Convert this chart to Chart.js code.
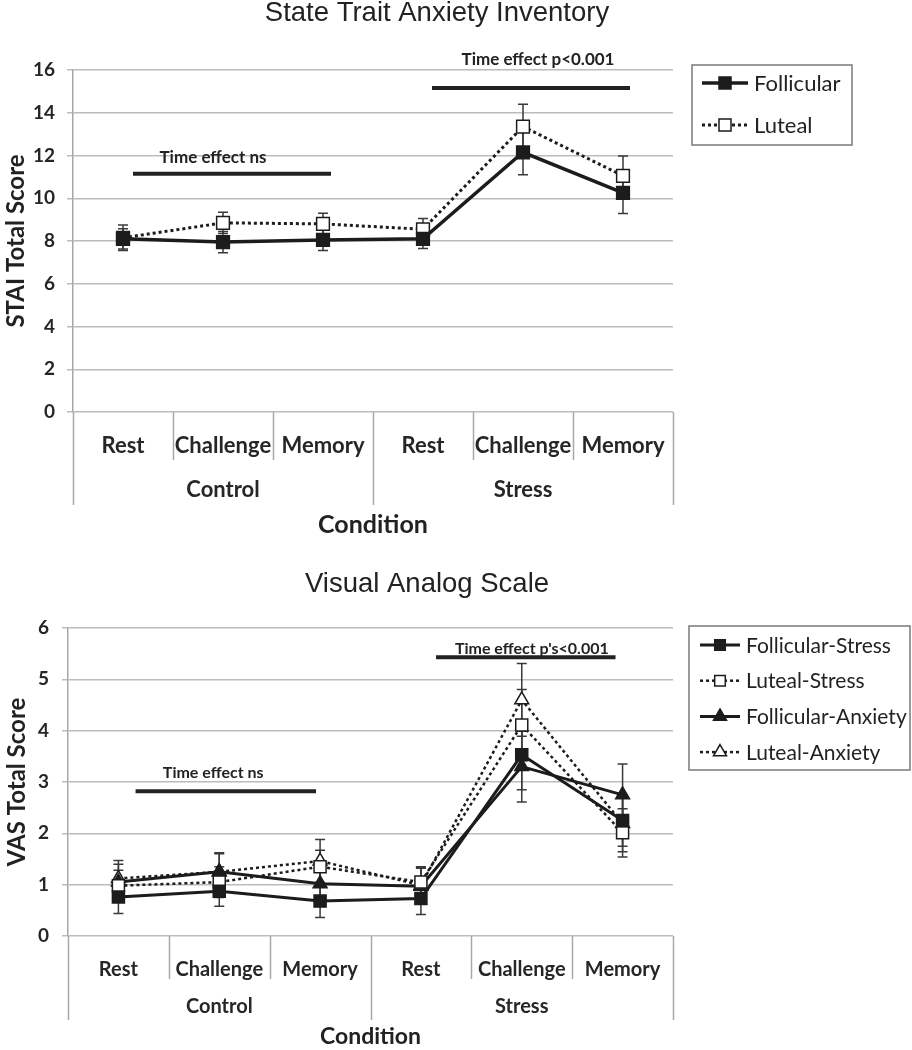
<!DOCTYPE html>
<html>
<head>
<meta charset="utf-8">
<script src="https://cdn.jsdelivr.net/npm/chart.js@4.4.0/dist/chart.umd.min.js"></script>
<style>
  html, body { margin: 0; padding: 0; background: #fff; }
  canvas { display: block; }
</style>
</head>
<body>
<canvas id="stai" width="912" height="540"></canvas>
<canvas id="vas" width="912" height="510"></canvas>
<script>
// ---- data ----
const categories = ['Rest', 'Challenge', 'Memory', 'Rest', 'Challenge', 'Memory'];
const groups = ['Control', 'Stress'];
const groupSize = 3;

// State Trait Anxiety Inventory
const staiFollicular    = [8.1, 7.95, 8.05, 8.1, 12.15, 10.25];
const staiFollicularErr = [0.47, 0.5, 0.5, 0.45, 1.05, 0.96];
const staiLuteal        = [8.15, 8.85, 8.8, 8.55, 13.35, 11.05];
const staiLutealErr     = [0.6, 0.5, 0.5, 0.5, 1.05, 0.93];

// Visual Analog Scale
const vasFollStress    = [0.76, 0.87, 0.68, 0.73, 3.53, 2.25];
const vasFollStressErr = [0.32, 0.29, 0.32, 0.31, 0.68, 0.5];
const vasLutStress     = [0.98, 1.05, 1.35, 1.05, 4.11, 2.01];
const vasLutStressErr  = [0.3, 0.3, 0.32, 0.3, 0.69, 0.47];
const vasFollAnx       = [1.05, 1.25, 1.02, 0.97, 3.3, 2.75];
const vasFollAnxErr    = [0.35, 0.35, 0.35, 0.35, 0.69, 0.6];
const vasLutAnx        = [1.12, 1.25, 1.46, 0.99, 4.6, 2.19];
const vasLutAnxErr     = [0.35, 0.37, 0.42, 0.35, 0.71, 0.55];

Chart.defaults.font.family = 'Lato';
Chart.defaults.color = '#262626';

const INK = '#1c1c1c';

function marker(ctx, style, filled, x, y, r) {
  ctx.beginPath();
  if (style === 'triangle') {
    ctx.moveTo(x, y - r);
    ctx.lineTo(x + r * 0.866, y + r * 0.5);
    ctx.lineTo(x - r * 0.866, y + r * 0.5);
    ctx.closePath();
  } else {
    const s = r * Math.SQRT1_2;
    ctx.rect(x - s, y - s, 2 * s, 2 * s);
  }
  ctx.fillStyle = filled ? INK : '#fff';
  ctx.fill();
  ctx.lineWidth = 1.5;
  ctx.strokeStyle = INK;
  ctx.stroke();
}

function series(label, data, errors, solid, style, radius, width) {
  return {
    label, data, errors,
    borderColor: INK,
    borderWidth: width,
    borderDash: solid ? [] : [3, 3],
    borderCapStyle: 'butt',
    pointStyle: style,
    pointRadius: radius,
    pointHoverRadius: radius,
    pointBackgroundColor: solid ? INK : '#fff',
    pointBorderColor: INK,
    pointBorderWidth: 1.5,
    tension: 0,
    fill: false
  };
}

function extras(cfg) {
  return {
    id: 'extras',
    beforeDatasetsDraw(chart) {
      const ctx = chart.ctx, xs = chart.scales.x, ys = chart.scales.y;
      ctx.save();
      ctx.strokeStyle = '#3a3a3a';
      ctx.lineWidth = 1.5;
      chart.data.datasets.forEach(ds => {
        ds.data.forEach((v, i) => {
          const x = xs.getPixelForValue(i);
          const yt = ys.getPixelForValue(v + ds.errors[i]);
          const yb = ys.getPixelForValue(v - ds.errors[i]);
          ctx.beginPath();
          ctx.moveTo(x, yt); ctx.lineTo(x, yb);
          ctx.moveTo(x - 5, yt); ctx.lineTo(x + 5, yt);
          ctx.moveTo(x - 5, yb); ctx.lineTo(x + 5, yb);
          ctx.stroke();
        });
      });
      ctx.restore();
    },
    afterDraw(chart) {
      const ctx = chart.ctx, xs = chart.scales.x, ys = chart.scales.y;
      const base = chart.chartArea.bottom;
      ctx.save();

      // title
      ctx.fillStyle = '#222';
      ctx.font = '27.5px "Liberation Sans"';
      ctx.textAlign = 'center';
      ctx.textBaseline = 'middle';
      ctx.fillText(cfg.title, cfg.titleX, cfg.titleY);

      // category dividers and group labels
      ctx.strokeStyle = '#a8a8a8';
      ctx.lineWidth = 1.5;
      for (let k = 0; k <= categories.length; k++) {
        const x = Math.round(xs.getPixelForValue(k - 0.5)) + 0.5;
        const len = k % groupSize === 0 ? cfg.groupTick : cfg.innerTick;
        ctx.beginPath();
        ctx.moveTo(x, base);
        ctx.lineTo(x, base + len);
        ctx.stroke();
      }
      ctx.fillStyle = '#262626';
      ctx.font = 'bold ' + cfg.tickFont + 'px Lato';
      groups.forEach((g, gi) => {
        const c = xs.getPixelForValue(gi * groupSize + (groupSize - 1) / 2);
        ctx.fillText(g, c, base + cfg.groupLabelY);
      });

      // time-effect notes
      cfg.notes.forEach(n => {
        ctx.fillStyle = '#222';
        ctx.font = 'bold ' + cfg.noteFont + 'px Lato';
        ctx.fillText(n.text, xs.getPixelForValue(n.tx), ys.getPixelForValue(n.ty));
        const y = ys.getPixelForValue(n.y);
        ctx.strokeStyle = '#222';
        ctx.lineWidth = 4;
        ctx.beginPath();
        ctx.moveTo(xs.getPixelForValue(n.x0), y);
        ctx.lineTo(xs.getPixelForValue(n.x1), y);
        ctx.stroke();
      });

      // legend box
      const L = cfg.legend;
      ctx.strokeStyle = '#7a7a7a';
      ctx.lineWidth = 1.5;
      ctx.strokeRect(L.x, L.y, L.w, L.h);
      ctx.textAlign = 'left';
      ctx.font = L.font + 'px Lato';
      chart.data.datasets.forEach((ds, i) => {
        const cy = L.y + L.first + i * L.row;
        const x0 = L.x + L.pad, x1 = x0 + L.sample;
        ctx.strokeStyle = INK;
        ctx.lineWidth = ds.borderWidth;
        ctx.setLineDash(ds.borderDash);
        ctx.beginPath();
        ctx.moveTo(x0, cy); ctx.lineTo(x1, cy);
        ctx.stroke();
        ctx.setLineDash([]);
        marker(ctx, ds.pointStyle, ds.pointBackgroundColor !== '#fff', (x0 + x1) / 2, cy, L.r);
        ctx.fillStyle = '#222';
        ctx.fillText(ds.label, x1 + 6, cy + 1);
      });
      ctx.restore();
    }
  };
}

function build(id, datasets, yMax, yStep, yTitle, sizes, cfg) {
  return new Chart(document.getElementById(id), {
    type: 'line',
    data: { labels: categories, datasets },
    options: {
      responsive: false,
      animation: false,
      layout: { padding: { top: sizes.top, right: sizes.right, left: 0, bottom: 0 } },
      plugins: { legend: { display: false }, tooltip: { enabled: false }, title: { display: false } },
      scales: {
        x: {
          type: 'category',
          offset: true,
          grid: { display: false },
          border: { display: false },
          ticks: { autoSkip: false, maxRotation: 0, padding: sizes.tickPad,
                   font: { size: cfg.tickFont, weight: 'bold' }, color: '#262626' },
          title: { display: true, text: 'Condition', font: { size: sizes.condFont, weight: 'bold' },
                   color: '#222', padding: { top: 0, bottom: 0 } },
          afterFit(s) { s.height = sizes.xHeight; }
        },
        y: {
          min: 0, max: yMax,
          ticks: { stepSize: yStep, padding: sizes.yPad, font: { size: 19, weight: 'bold' }, color: '#262626' },
          grid: { color: '#bcbcbc', lineWidth: 1.5, tickLength: 6 },
          border: { display: true, color: '#a8a8a8', width: 1.5 },
          title: { display: true, text: yTitle, font: { size: 24, weight: 'bold' }, color: '#222',
                   padding: { top: sizes.yTitlePad, bottom: 0 } },
          afterFit(s) { s.width = sizes.yWidth; }
        }
      }
    },
    plugins: [extras(cfg)]
  });
}

build('stai', [
  series('Follicular', staiFollicular, staiFollicularErr, true, 'rect', 9, 3.5),
  series('Luteal', staiLuteal, staiLutealErr, false, 'rect', 9, 3)
], 16, 2, 'STAI Total Score',
{ top: 70, right: 239, xHeight: 128, yWidth: 73, tickPad: 13, yPad: 12, condFont: 25, yTitlePad: 2 },
{
  title: 'State Trait Anxiety Inventory', titleX: 437, titleY: 13,
  tickFont: 22, groupTick: 93, innerTick: 48, groupLabelY: 78, noteFont: 17,
  notes: [
    { text: 'Time effect ns', tx: 0.9, ty: 11.9, x0: 0.1, x1: 2.08, y: 11.15 },
    { text: 'Time effect p<0.001', tx: 4.15, ty: 16.5, x0: 3.09, x1: 5.07, y: 15.16 }
  ],
  legend: { x: 692, y: 65, w: 160, h: 80, first: 18, row: 42, pad: 10, sample: 46, r: 8.5, font: 22 }
});

build('vas', [
  series('Follicular-Stress', vasFollStress, vasFollStressErr, true, 'rect', 8.5, 3),
  series('Luteal-Stress', vasLutStress, vasLutStressErr, false, 'rect', 8.5, 2.5),
  series('Follicular-Anxiety', vasFollAnx, vasFollAnxErr, true, 'triangle', 8, 3),
  series('Luteal-Anxiety', vasLutAnx, vasLutAnxErr, false, 'triangle', 8, 2.5)
], 6, 1, 'VAS Total Score',
{ top: 88, right: 239, xHeight: 114, yWidth: 68, tickPad: 14, yPad: 13, condFont: 23, yTitlePad: 3 },
{
  title: 'Visual Analog Scale', titleX: 427, titleY: 44,
  tickFont: 20, groupTick: 84, innerTick: 43, groupLabelY: 71, noteFont: 16,
  notes: [
    { text: 'Time effect ns', tx: 0.94, ty: 3.17, x0: 0.17, x1: 1.96, y: 2.82 },
    { text: "Time effect p's<0.001", tx: 4.1, ty: 5.6, x0: 3.15, x1: 4.93, y: 5.43 }
  ],
  legend: { x: 689, y: 86, w: 221, h: 144, first: 19, row: 35.7, pad: 11, sample: 40, r: 7.5, font: 21 }
});
</script>
</body>
</html>
